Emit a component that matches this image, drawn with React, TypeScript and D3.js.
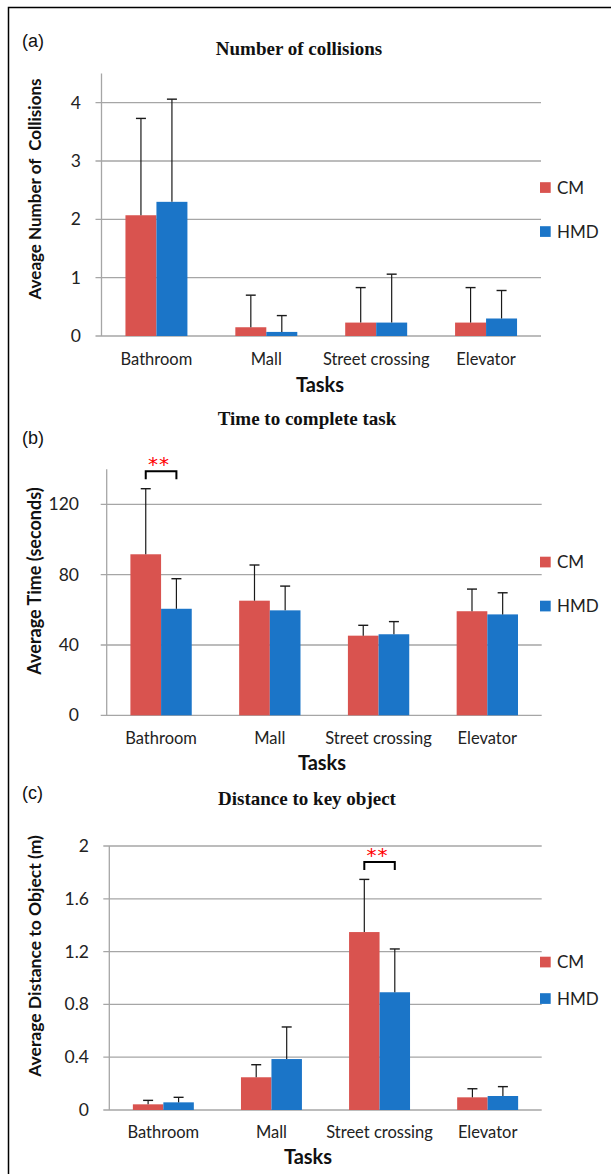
import * as d3 from 'd3';
import { useEffect, useRef } from 'react';

// categories and series
const categories = ['Bathroom', 'Mall', 'Street crossing', 'Elevator'];
const seriesNames = ['CM', 'HMD'];
const seriesColors = ['#D9534F', '#1B75C8'];

// (a) number of collisions: mean and upper error (SD)
const collisionsCM = [2.07, 0.15, 0.23, 0.23];
const collisionsCMErr = [1.66, 0.55, 0.6, 0.6];
const collisionsHMD = [2.3, 0.07, 0.23, 0.3];
const collisionsHMDErr = [1.76, 0.28, 0.83, 0.48];

// (b) time to complete task (seconds)
const timeCM = [91.6, 65.2, 45.3, 59.2];
const timeCMErr = [37.3, 20.3, 5.9, 12.6];
const timeHMD = [60.6, 59.7, 46.1, 57.4];
const timeHMDErr = [17.1, 13.8, 7.2, 12.3];

// (c) distance to key object (m)
const distCM = [0.043, 0.248, 1.348, 0.096];
const distCMErr = [0.03, 0.095, 0.399, 0.065];
const distHMD = [0.058, 0.386, 0.892, 0.106];
const distHMDErr = [0.038, 0.243, 0.328, 0.071];

// tick labels
const collisionTicks = [0, 1, 2, 3, 4];
const timeTicks = [0, 40, 80, 120];
const distTicks = [0, 0.4, 0.8, 1.2, 1.6, 2];

// significance markers
const timeSignificant = ['Bathroom'];
const distSignificant = ['Street crossing'];

const panels = [
  {
    tag: '(a)', title: 'Number of collisions', yLabel: 'Aveage Number of  Collisions',
    means: [collisionsCM, collisionsHMD], errs: [collisionsCMErr, collisionsHMDErr],
    ticks: collisionTicks, max: 4.5, sig: [] as string[],
    x0: 101.5, x1: 541, yBottom: 336, yTop: 73.5, tickRight: 81,
    tagY: 47, titleY: 55, titleX: 299, catY: 365, tasksY: 392, tasksX: 320,
    legY: [187.5, 231.5], yLabelY: 189, yLabelSize: 17,
  },
  {
    tag: '(b)', title: 'Time to complete task', yLabel: 'Average Time (seconds)',
    means: [timeCM, timeHMD], errs: [timeCMErr, timeHMDErr],
    ticks: timeTicks, max: 140, sig: timeSignificant,
    x0: 106.7, x1: 541.7, yBottom: 715.3, yTop: 469.2, tickRight: 79,
    tagY: 444, titleY: 425, titleX: 307, catY: 744, tasksY: 770, tasksX: 322,
    legY: [562, 606], yLabelY: 581, yLabelSize: 18,
  },
  {
    tag: '(c)', title: 'Distance to key object', yLabel: 'Average Distance to Object (m)',
    means: [distCM, distHMD], errs: [distCMErr, distHMDErr],
    ticks: distTicks, max: 2, sig: distSignificant,
    x0: 109.3, x1: 541.7, yBottom: 1110, yTop: 846, tickRight: 89,
    tagY: 799, titleY: 805, titleX: 307, catY: 1138, tasksY: 1164, tasksX: 308,
    legY: [962, 998.5], yLabelY: 956, yLabelSize: 17.5,
  },
];

const labelFont = 'Lato, "Open Sans", sans-serif';

function App() {
  const ref = useRef<SVGSVGElement>(null);

  useEffect(() => {
    const svg = d3.select(ref.current);
    svg.selectAll('*').remove();

    // outer frame
    svg.append('rect')
      .attr('x', 8.5).attr('y', 7.5)
      .attr('width', 700).attr('height', 1300)
      .attr('fill', 'none').attr('stroke', '#000').attr('stroke-width', 1.5);

    panels.forEach(p => {
      const g = svg.append('g');
      const x = d3.scaleBand<string>().domain(categories).range([p.x0, p.x1])
        .paddingInner(0.436).paddingOuter(0.218);
      const xs = d3.scaleBand<string>().domain(seriesNames).range([0, x.bandwidth()]);
      const y = d3.scaleLinear().domain([0, p.max]).range([p.yBottom, p.yTop]);

      // gridlines + tick marks
      g.selectAll('line.grid').data(p.ticks).join('line')
        .attr('x1', p.x0 - 6).attr('x2', p.x1)
        .attr('y1', d => y(d)).attr('y2', d => y(d))
        .attr('stroke', '#A6A6A6').attr('stroke-width', 1.3);
      // y axis line
      g.append('line')
        .attr('x1', p.x0).attr('x2', p.x0)
        .attr('y1', y(p.max)).attr('y2', y(0))
        .attr('stroke', '#A6A6A6').attr('stroke-width', 1.3);

      // tick labels
      g.selectAll('text.tick').data(p.ticks).join('text')
        .attr('x', p.tickRight).attr('y', d => y(d) + 6)
        .attr('text-anchor', 'end')
        .attr('font-family', labelFont).attr('font-size', 17.5).attr('fill', '#222')
        .text(d => String(d));

      // bars
      seriesNames.forEach((s, si) => {
        g.selectAll(`rect.bar${si}`).data(categories).join('rect')
          .attr('x', c => (x(c) as number) + (xs(s) as number))
          .attr('y', (c, i) => y(p.means[si][i]))
          .attr('width', xs.bandwidth())
          .attr('height', (c, i) => y(0) - y(p.means[si][i]))
          .attr('fill', seriesColors[si]);

        // upper error bars
        const cx = (c: string) => (x(c) as number) + (xs(s) as number) + xs.bandwidth() / 2;
        g.selectAll(`line.err${si}`).data(categories).join('line')
          .attr('x1', cx).attr('x2', cx)
          .attr('y1', (c, i) => y(p.means[si][i]))
          .attr('y2', (c, i) => y(p.means[si][i] + p.errs[si][i]))
          .attr('stroke', '#1a1a1a').attr('stroke-width', 1.2);
        g.selectAll(`line.cap${si}`).data(categories).join('line')
          .attr('x1', c => cx(c) - 5).attr('x2', c => cx(c) + 5)
          .attr('y1', (c, i) => y(p.means[si][i] + p.errs[si][i]))
          .attr('y2', (c, i) => y(p.means[si][i] + p.errs[si][i]))
          .attr('stroke', '#1a1a1a').attr('stroke-width', 1.4);
      });

      // significance brackets
      p.sig.forEach(c => {
        const i = categories.indexOf(c);
        const top = d3.max(seriesNames, (s, si) => p.means[si][i] + p.errs[si][i]) as number;
        const xa = (x(c) as number) + (xs('CM') as number) + xs.bandwidth() / 2;
        const xb = (x(c) as number) + (xs('HMD') as number) + xs.bandwidth() / 2;
        const yb = y(top) - 9.5;
        g.append('path')
          .attr('d', `M${xa},${yb} V${yb - 8} H${xb} V${yb}`)
          .attr('fill', 'none').attr('stroke', '#000').attr('stroke-width', 2);
        g.append('text')
          .attr('x', (xa + xb) / 2 - 2).attr('y', yb - 8)
          .attr('text-anchor', 'middle')
          .attr('font-family', '"DejaVu Sans", sans-serif').attr('font-size', 20)
          .attr('fill', '#FF0000')
          .attr('letter-spacing', 1)
          .text('**');
      });

      // category labels
      g.selectAll('text.cat').data(categories).join('text')
        .attr('x', c => (x(c) as number) + x.bandwidth() / 2)
        .attr('y', p.catY)
        .attr('text-anchor', 'middle')
        .attr('font-family', labelFont).attr('font-size', 16.5).attr('fill', '#222')
        .text(c => c);

      // axis titles
      g.append('text')
        .attr('x', p.tasksX).attr('y', p.tasksY)
        .attr('text-anchor', 'middle')
        .attr('font-family', labelFont).attr('font-weight', 'bold').attr('font-size', 20)
        .attr('fill', '#111')
        .text('Tasks');
      g.append('text')
        .attr('transform', `translate(41,${p.yLabelY}) rotate(-90)`)
        .attr('text-anchor', 'middle')
        .attr('font-family', labelFont).attr('font-weight', 'bold').attr('font-size', p.yLabelSize)
        .attr('fill', '#111')
        .style('white-space', 'pre')
        .text(p.yLabel);

      // panel tag and chart title
      g.append('text')
        .attr('x', 22).attr('y', p.tagY)
        .attr('font-family', '"Liberation Sans", Arial, sans-serif').attr('font-size', 18)
        .attr('fill', '#111')
        .text(p.tag);
      g.append('text')
        .attr('x', p.titleX).attr('y', p.titleY)
        .attr('text-anchor', 'middle')
        .attr('font-family', '"Liberation Serif", "Times New Roman", serif')
        .attr('font-weight', 'bold').attr('font-size', 19).attr('fill', '#111')
        .text(p.title);

      // legend
      seriesNames.forEach((s, si) => {
        g.append('rect')
          .attr('x', 540).attr('y', p.legY[si] - 5.3)
          .attr('width', 10.7).attr('height', 10.7)
          .attr('fill', seriesColors[si]);
        g.append('text')
          .attr('x', 557).attr('y', p.legY[si] + 6)
          .attr('font-family', labelFont).attr('font-size', 17).attr('fill', '#222')
          .text(s);
      });
    });
  }, []);

  return (
    <svg ref={ref} width={611} height={1174}
      style={{ position: 'absolute', left: 0, top: 0, background: '#fff' }} />
  );
}

export default App;
